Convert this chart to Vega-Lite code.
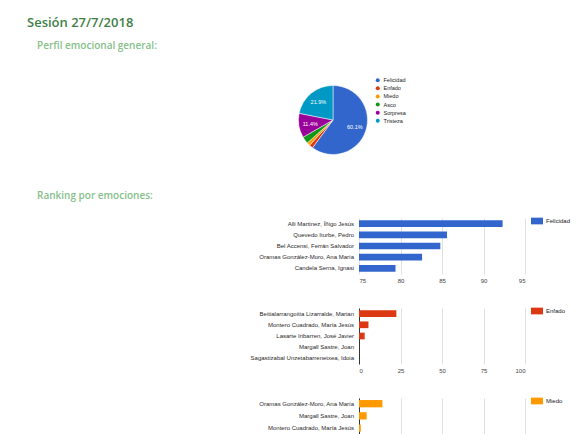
{
  "$schema": "https://vega.github.io/schema/vega-lite/v6.json",
  "background": "white",
  "padding": {"left": 27, "top": 17, "right": 0, "bottom": 0},
  "title": {"text": "Sesión 27/7/2018", "anchor": "start", "frame": "group", "dx": -203, "offset": 11, "font": "Open Sans", "fontSize": 13, "fontWeight": 600, "color": "#3f7f47"},
  "datasets": {
    "perfil": [
      {"emocion": "Felicidad", "k": 1, "v": 0.601},
      {"emocion": "Enfado", "k": 2, "v": 0.018},
      {"emocion": "Miedo", "k": 3, "v": 0.015},
      {"emocion": "Asco", "k": 4, "v": 0.033},
      {"emocion": "Sorpresa", "k": 5, "v": 0.114},
      {"emocion": "Tristeza", "k": 6, "v": 0.219}
    ],
    "ranking": [
      {"emocion": "Felicidad", "nombre": "Alli Martinez, Íñigo Jesús", "v": 92.3},
      {"emocion": "Felicidad", "nombre": "Quevedo Iturbe, Pedro", "v": 85.6},
      {"emocion": "Felicidad", "nombre": "Bel Accensi, Ferrán Salvador", "v": 84.8},
      {"emocion": "Felicidad", "nombre": "Oramas González-Moro, Ana María", "v": 82.6},
      {"emocion": "Felicidad", "nombre": "Candela Serna, Ignasi", "v": 79.4},
      {"emocion": "Enfado", "nombre": "Beitialarrangoitia Lizarralde, Marian", "v": 22.5},
      {"emocion": "Enfado", "nombre": "Montero Cuadrado, María Jesús", "v": 5.7},
      {"emocion": "Enfado", "nombre": "Lasarte Iribarren, José Javier", "v": 3.4},
      {"emocion": "Enfado", "nombre": "Margall Sastre, Joan", "v": 0},
      {"emocion": "Enfado", "nombre": "Sagastizabal Unzetabarrenetxea, Idoia", "v": 0},
      {"emocion": "Miedo", "nombre": "Oramas González-Moro, Ana María", "v": 14.1},
      {"emocion": "Miedo", "nombre": "Margall Sastre, Joan", "v": 4.6},
      {"emocion": "Miedo", "nombre": "Montero Cuadrado, María Jesús", "v": 1.1}
    ]
  },
  "config": {
    "view": {"stroke": null},
    "font": "Liberation Sans",
    "axisX": {"grid": true, "gridColor": "#e0e0e0", "gridWidth": 1, "domain": false, "ticks": false, "labelPadding": 3, "labelFontSize": 6, "labelColor": "#444444", "title": null},
    "axisY": {"grid": false, "domain": true, "domainColor": "#333333", "domainWidth": 1, "ticks": false, "labelPadding": 5.5, "labelFontSize": 6, "labelColor": "#2a2a2a", "labelLimit": 300, "title": null},
    "legend": {"title": null, "labelFont": "Liberation Sans", "labelColor": "#222222", "symbolStrokeWidth": 0}
  },
  "resolve": {"scale": {"color": "independent"}, "legend": {"color": "independent"}},
  "spacing": 25,
  "vconcat": [
    {
      "title": {"text": "Perfil emocional general:", "anchor": "start", "frame": "group", "dx": -193, "offset": 24, "font": "Open Sans", "fontSize": 10, "fontWeight": 600, "color": "#86c08a"},
      "width": 206,
      "height": 90,
      "data": {"name": "perfil"},
      "encoding": {
        "theta": {"field": "v", "type": "quantitative", "stack": true},
        "order": {"field": "k", "type": "quantitative"}
      },
      "layer": [
        {
          "mark": {"type": "arc", "outerRadius": 34.5, "stroke": "white", "strokeWidth": 0.5},
          "encoding": {
            "color": {
              "field": "emocion", "type": "nominal", "sort": null,
              "scale": {"domain": ["Felicidad", "Enfado", "Miedo", "Asco", "Sorpresa", "Tristeza"], "range": ["#3366cc", "#dc3912", "#ff9900", "#109618", "#990099", "#0099c6"]},
              "legend": {"orient": "none", "legendX": 145, "legendY": 2.5, "symbolType": "circle", "symbolSize": 16, "labelFontSize": 5.5, "labelOffset": 3, "rowPadding": 1.1}
            }
          }
        },
        {
          "mark": {"type": "text", "radius": 23, "fontSize": 5.5, "font": "Liberation Sans"},
          "encoding": {
            "text": {"condition": {"test": "datum.v > 0.05", "field": "v", "format": ".1%"}, "value": ""},
            "color": {"value": "white"}
          }
        }
      ]
    },
    {
      "title": {"text": "Ranking por emociones:", "anchor": "start", "frame": "group", "dx": -193, "offset": 17.5, "font": "Open Sans", "fontSize": 10, "fontWeight": 600, "color": "#86c08a"},
      "spacing": 0,
      "resolve": {"scale": {"color": "independent"}, "legend": {"color": "independent"}},
      "hconcat": [
        {"width": 0, "height": 1, "data": {"values": []}, "mark": "point"},
        {
          "spacing": 25,
          "resolve": {"scale": {"color": "independent"}, "legend": {"color": "independent"}},
          "vconcat": [
            {
              "width": 166, "height": 56,
              "data": {"name": "ranking"},
              "transform": [{"filter": "datum.emocion === 'Felicidad'"}],
              "mark": {"type": "bar", "clip": true},
              "encoding": {
                "y": {"field": "nombre", "type": "nominal", "sort": null, "scale": {"paddingInner": 0.4, "paddingOuter": 0.2}, "axis": {"domain": false}},
                "x": {"field": "v", "type": "quantitative", "scale": {"domain": [75, 95], "nice": false, "zero": false}, "axis": {"values": [75, 80, 85, 90, 95]}},
                "color": {"field": "emocion", "type": "nominal", "scale": {"domain": ["Felicidad"], "range": ["#3366cc"]}, "legend": {"orient": "right", "offset": 9, "symbolType": "M-2,-1.12H2V1.12H-2Z", "symbolSize": 36, "labelFontSize": 6, "labelOffset": 6}}
              }
            },
            {
              "width": 166, "height": 56,
              "data": {"name": "ranking"},
              "transform": [{"filter": "datum.emocion === 'Enfado'"}],
              "mark": {"type": "bar"},
              "encoding": {
                "y": {"field": "nombre", "type": "nominal", "sort": null, "scale": {"paddingInner": 0.4, "paddingOuter": 0.2}},
                "x": {"field": "v", "type": "quantitative", "scale": {"domain": [0, 100], "nice": false}, "axis": {"values": [0, 25, 50, 75, 100]}},
                "color": {"field": "emocion", "type": "nominal", "scale": {"domain": ["Enfado"], "range": ["#dc3912"]}, "legend": {"orient": "right", "offset": 9, "symbolType": "M-2,-1.12H2V1.12H-2Z", "symbolSize": 36, "labelFontSize": 6, "labelOffset": 6}}
              }
            },
            {
              "width": 166, "height": 56,
              "data": {"name": "ranking"},
              "transform": [{"filter": "datum.emocion === 'Miedo'"}],
              "mark": {"type": "bar"},
              "encoding": {
                "y": {"field": "nombre", "type": "nominal", "sort": null, "scale": {"paddingInner": 0.4, "paddingOuter": 1.2, "align": 0.0833}},
                "x": {"field": "v", "type": "quantitative", "scale": {"domain": [0, 100], "nice": false}, "axis": {"values": [0, 25, 50, 75, 100], "labels": false}},
                "color": {"field": "emocion", "type": "nominal", "scale": {"domain": ["Miedo"], "range": ["#ff9900"]}, "legend": {"orient": "right", "offset": 9, "symbolType": "M-2,-1.12H2V1.12H-2Z", "symbolSize": 36, "labelFontSize": 6, "labelOffset": 6}}
              }
            }
          ]
        }
      ]
    }
  ]
}
